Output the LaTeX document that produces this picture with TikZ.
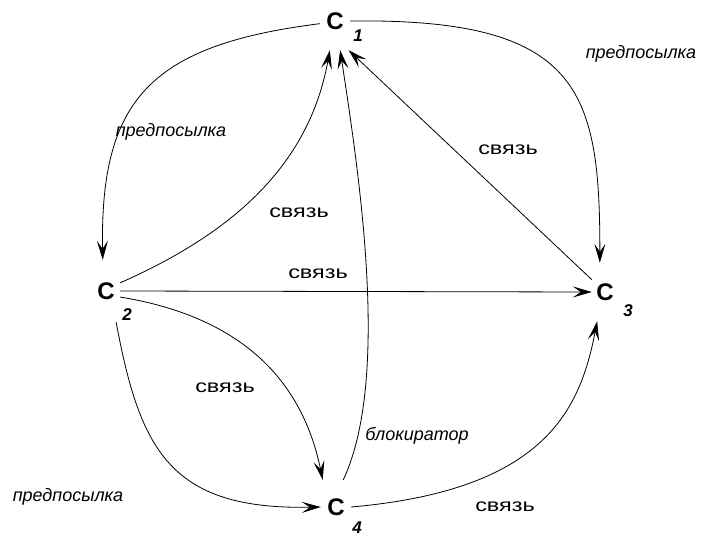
\documentclass[tikz,border=0pt]{standalone}
\usepackage{fontspec}
\setmainfont{Liberation Sans}
\usepackage{tikz}
\usetikzlibrary{positioning,arrows.meta}

\begin{document}
\begin{tikzpicture}[x=1pt,y=-1pt,
  cnode/.style={inner sep=0pt, font=\bfseries\fontsize{24}{24}\selectfont},
  idx/.style={inner sep=0pt, font=\bfseries\itshape\fontsize{17}{17}\selectfont},
  lbl/.style={inner sep=1pt, font=\itshape\fontsize{18}{18}\selectfont},
  svz/.style={inner sep=1pt, font=\fontsize{18}{18}\selectfont},
  link/.style={draw=black, line width=0.8pt, -{Stealth[length=19pt,width=11pt,inset=8pt]}}
]
\useasboundingbox (0,0) rectangle (706,538);

\node[cnode, minimum width=30pt, minimum height=58pt] (c1) at (335,21) {C};
\node[cnode, minimum width=28pt, minimum height=62pt] (c2) at (106,291) {C};
\node[cnode, minimum width=26pt, minimum height=58pt] (c3) at (605,292) {C};
\node[cnode, minimum width=30pt, minimum height=54pt] (c4) at (336,507) {C};
\node[idx] (c1i) at (358,36) {1};
\node[idx] (c2i) at (127,315) {2};
\node[idx] (c3i) at (628,311) {3};
\node[idx] (c4i) at (357,528) {4};

% prerequisites
\draw[link] (c1.190) .. controls (150,45) and (100,100) .. (c2.96);
\draw[link] (c1.east) .. controls (580,18) and (600,90) .. (c3.100);
\draw[link] (c2.-72) .. controls (140,450) and (170,510) .. (c4.west);

% links
\draw[link] (c2.30) .. controls (240,230) and (310,160) .. (c1.-100);
\draw[link] (c2.east) -- (c3.west);
\draw[link] (c3.137) -- (c1.-65);
\draw[link] (c2.-23) .. controls (230,315) and (300,370) .. (c4.116);
\draw[link] (c4.east) .. controls (545,490) and (580,410) .. (c3.-105);

% blocker
\draw[link] (c4.75) .. controls (390,380) and (360,180) .. (c1.-80);

\node[lbl] (l12) at (171,132) {предпосылка};
\node[lbl] (l13) at (641,54) {предпосылка};
\node[lbl] (l24) at (68,497) {предпосылка};
\node[lbl] (l41) at (417,436) {блокиратор};
\node[svz] (s21) at (299,213) {\scalebox{1.3}[1]{связь}};
\node[svz] (s23) at (318,274) {\scalebox{1.3}[1]{связь}};
\node[svz] (s31) at (508,150) {\scalebox{1.3}[1]{связь}};
\node[svz] (s24) at (225,388) {\scalebox{1.3}[1]{связь}};
\node[svz] (s43) at (505,507) {\scalebox{1.3}[1]{связь}};
\end{tikzpicture}
\end{document}
